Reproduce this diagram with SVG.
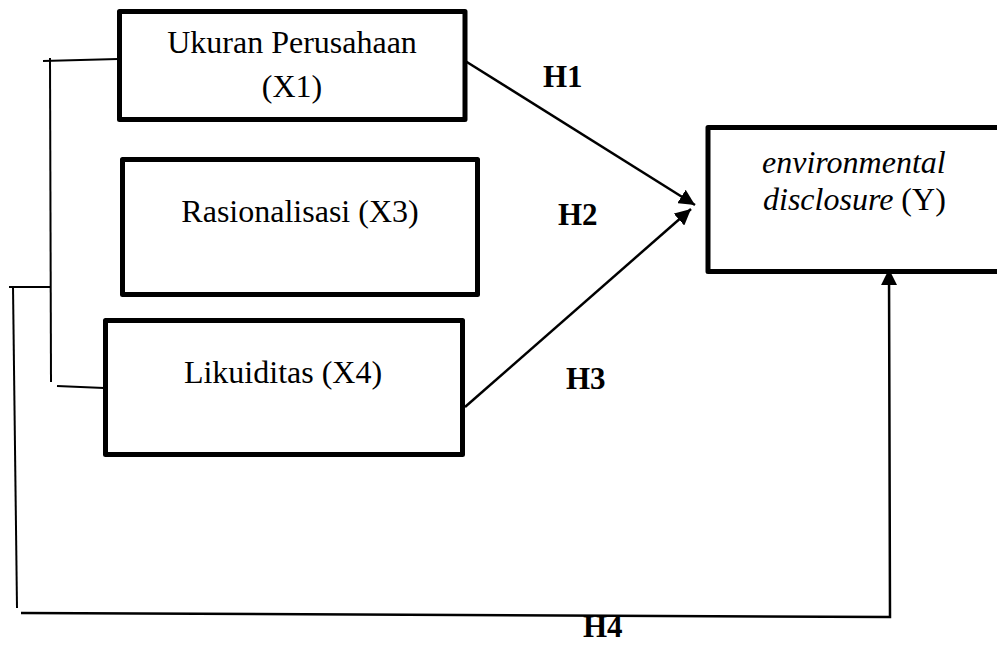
<svg xmlns="http://www.w3.org/2000/svg" width="997" height="645" viewBox="0 0 997 645">
<style>
.box{fill:#fff;stroke:#000;stroke-width:5;stroke-linejoin:round}
.t{font-family:"Liberation Serif","Times New Roman",serif;font-size:32px;fill:#000}
.h{font-family:"Liberation Serif","Times New Roman",serif;font-size:31px;font-weight:bold;fill:#000}
.ln{fill:none;stroke:#000;stroke-width:2}
.ar{fill:none;stroke:#000;stroke-width:2.5}
</style>
<defs>
<marker id="ah" markerUnits="userSpaceOnUse" markerWidth="18" markerHeight="16" refX="16" refY="8" orient="auto">
<path d="M0,0 L16,8 L0,16 Z" fill="#000"/>
</marker>
</defs>
<rect width="997" height="645" fill="#fff"/>
<g id="connectors">
<line class="ln" x1="43" y1="61" x2="118" y2="59"/>
<line class="ln" x1="50" y1="58" x2="51" y2="382"/>
<line class="ln" x1="57" y1="386" x2="104" y2="388"/>
<line class="ln" x1="9" y1="287" x2="50" y2="287"/>
<line class="ln" x1="13" y1="287" x2="17" y2="608"/>
<path class="ar" d="M21,613 L890,617 L889,269" marker-end="url(#ah)"/>
<line class="ar" x1="462" y1="59" x2="695" y2="205" marker-end="url(#ah)"/>
<line class="ar" x1="465" y1="407" x2="691" y2="209" marker-end="url(#ah)"/>
<text class="h" x="543" y="87">H1</text>
<text class="h" x="558" y="225">H2</text>
<text class="h" x="566" y="389">H3</text>
<text class="h" x="583" y="637">H4</text>
</g>
<g id="x1">
<rect class="box" x="119.5" y="11.5" width="345.5" height="108"/>
<text class="t" x="292" y="53" text-anchor="middle">Ukuran Perusahaan</text>
<text class="t" x="292" y="97" text-anchor="middle">(X1)</text>
</g>
<g id="x3">
<rect class="box" x="122.5" y="159.5" width="355" height="135"/>
<text class="t" x="300" y="222" text-anchor="middle">Rasionalisasi (X3)</text>
</g>
<g id="x4">
<rect class="box" x="105.5" y="320.5" width="357" height="134"/>
<text class="t" x="283" y="383" text-anchor="middle">Likuiditas (X4)</text>
</g>
<g id="y">
<rect class="box" x="708" y="127.5" width="300" height="144"/>
<text class="t" x="762" y="173" font-style="italic">environmental</text>
<text class="t" x="763" y="210"><tspan font-style="italic">disclosure</tspan> (Y)</text>
</g>
</svg>
